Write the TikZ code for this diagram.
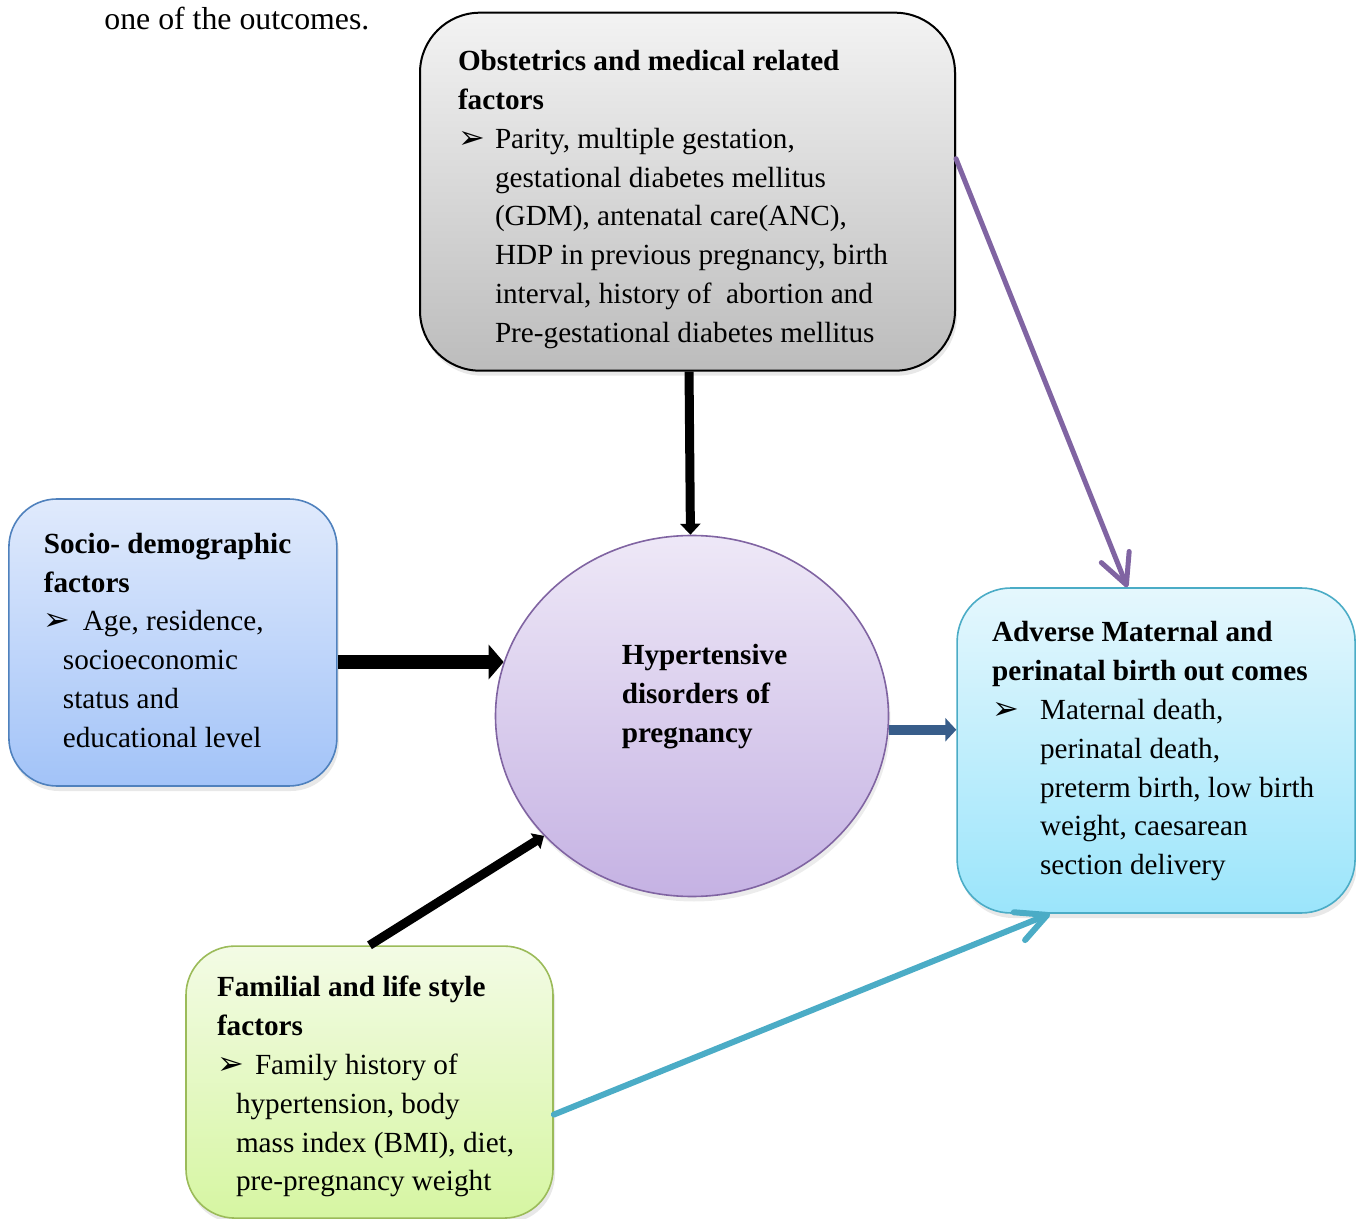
\documentclass[tikz,border=0pt]{standalone}
\usepackage{fontspec}
\setmainfont{Liberation Serif}
\newfontfamily\dingfont{DejaVu Sans}
\usepackage{tikz}
\usetikzlibrary{arrows.meta, positioning, shapes.geometric, shadows}

\definecolor{obstTop}{RGB}{243,243,243}
\definecolor{obstBottom}{RGB}{188,188,188}
\definecolor{socioTop}{RGB}{224,234,252}
\definecolor{socioBottom}{RGB}{162,195,248}
\definecolor{socioLine}{RGB}{79,129,189}
\definecolor{hdpTop}{RGB}{238,232,247}
\definecolor{hdpBottom}{RGB}{197,178,227}
\definecolor{hdpLine}{RGB}{128,100,162}
\definecolor{advTop}{RGB}{229,247,253}
\definecolor{advBottom}{RGB}{155,229,251}
\definecolor{advLine}{RGB}{75,172,198}
\definecolor{famTop}{RGB}{243,251,229}
\definecolor{famBottom}{RGB}{214,246,162}
\definecolor{famLine}{RGB}{155,187,89}
\definecolor{darkArrow}{RGB}{56,93,138}

\newcommand{\pointer}[1]{\makebox[#1][l]{{\dingfont\fontsize{16pt}{16pt}\selectfont ➢}}}
\newcommand{\topgap}[1]{\rule{0pt}{#1}}

\begin{document}
\begin{tikzpicture}[
  x=0.5pt, y=-0.5pt,
  box/.style={
    draw, line width=0.8pt, align=flush left,
    font=\fontsize{14.6pt}{19.4pt}\selectfont,
    drop shadow={opacity=0.18, shadow xshift=1pt, shadow yshift=-2.5pt}
  },
  arrow/.style={-{Triangle[width=10pt,length=5.5pt]}, line width=4.5pt},
  fatarrow/.style={-{Triangle[width=17pt,length=7.5pt]}, line width=7pt},
  barb/.style={-{Straight Barb[length=15pt,width=15pt,round]}, line cap=round}
]
\useasboundingbox (0,0) rectangle (1356,1219);

% Text above
\node[anchor=base west, inner sep=0pt, font=\fontsize{15.9pt}{19.4pt}\selectfont] (intro) at (104,30) {one of the outcomes.};

% Central ellipse
\node[ellipse, draw=hdpLine, line width=0.8pt, top color=hdpTop, bottom color=hdpBottom,
  minimum width=196.5pt, minimum height=180.5pt, inner sep=0pt,
  font=\fontsize{14.6pt}{19.4pt}\selectfont\bfseries,
  drop shadow={opacity=0.15, shadow xshift=1pt, shadow yshift=-2.5pt}] (hdp) at (692,716)
  {\begin{tabular}{@{\hspace{12.5pt}}l@{}}Hypertensive\\disorders of\\pregnancy\\[20pt]\end{tabular}};

% Boxes
\node[box, draw=black, line width=1pt, rounded corners=30pt, top color=obstTop, bottom color=obstBottom,
  minimum width=267.5pt, minimum height=179pt, inner xsep=19pt, text width=229.5pt,
  above=81.5pt of hdp, xshift=-2.25pt] (obstetric)
  {\topgap{20.6pt}\textbf{Obstetrics and medical related}\\
   \textbf{factors}\\
   \pointer{18.5pt}Parity, multiple gestation,\\
   \hspace*{18.5pt}gestational diabetes mellitus\\
   \hspace*{18.5pt}(GDM), antenatal care(ANC),\\
   \hspace*{18.5pt}HDP in previous pregnancy, birth\\
   \hspace*{18.5pt}interval, history of\ \ abortion and\\
   \hspace*{18.5pt}Pre-gestational diabetes mellitus\strut};
\node[box, draw=socioLine, rounded corners=24pt, top color=socioTop, bottom color=socioBottom,
  minimum width=164pt, minimum height=143.5pt, inner xsep=17.5pt, text width=129pt,
  left=78.5pt of hdp, yshift=36.75pt] (socio)
  {\strut\textbf{Socio- demographic}\\
   \textbf{factors}\\
   \pointer{19.5pt}Age, residence,\\
   \hspace*{9.5pt}socioeconomic\\
   \hspace*{9.5pt}status and\\
   \hspace*{9.5pt}educational level\strut};
\node[box, draw=advLine, rounded corners=27pt, top color=advTop, bottom color=advBottom,
  minimum width=199pt, minimum height=162.5pt, inner xsep=17.5pt, text width=164pt,
  right=33.5pt of hdp, yshift=-17.25pt] (adverse)
  {\strut\textbf{Adverse Maternal and}\\
   \textbf{perinatal birth out comes}\\
   \pointer{24pt}Maternal death,\\
   \hspace*{24pt}perinatal death,\\
   \hspace*{24pt}\mbox{preterm birth, low birth}\\
   \hspace*{24pt}weight, caesarean\\
   \hspace*{24pt}section delivery\strut};
\node[box, draw=famLine, rounded corners=24.5pt, top color=famTop, bottom color=famBottom,
  minimum width=183.5pt, minimum height=136pt, inner xsep=15.5pt, text width=152.5pt,
  below=24pt of hdp, xshift=-161.25pt] (familial)
  {\topgap{17.6pt}\textbf{Familial and life style}\\
   \textbf{factors}\\
   \pointer{19pt}Family history of\\
   \hspace*{9.5pt}hypertension, body\\
   \hspace*{9.5pt}mass index (BMI), diet,\\
   \hspace*{9.5pt}pre-pregnancy weight\strut};

% Arrows
\draw[arrow] (obstetric) -- (hdp);
\draw[fatarrow] (socio.east |- hdp.164) -- (hdp.164);
\draw[arrow, -{Triangle[width=9pt,length=5pt]}] (familial.north) -- (hdp.219);
\draw[barb, line width=2.5pt, hdpLine] (obstetric.7) -- (adverse.100);
\draw[arrow, darkArrow, line width=5pt, -{Triangle[width=11.5pt,length=5.5pt]}] (hdp.356) -- (hdp.356 -| adverse.west);
\draw[barb, line width=3pt, advLine] (familial.-10) -- (adverse.237);

\end{tikzpicture}
\end{document}
